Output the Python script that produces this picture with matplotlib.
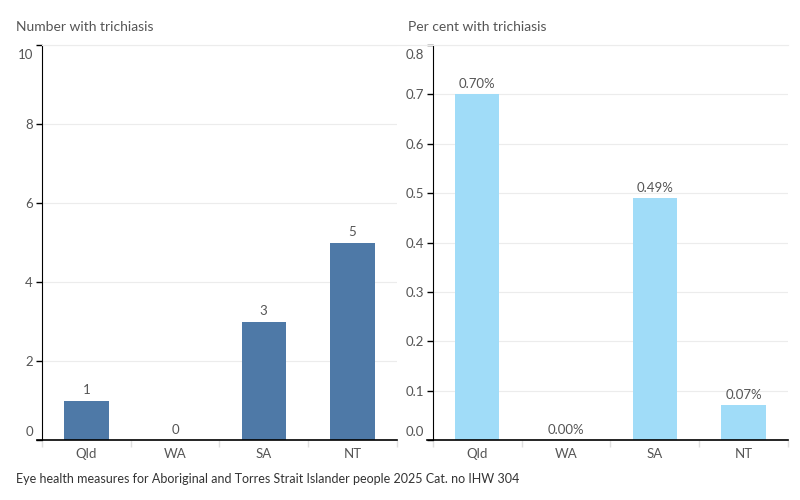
import matplotlib
matplotlib.use("Agg")
import matplotlib.pyplot as plt
from matplotlib.lines import Line2D
import matplotlib.transforms as mtransforms
import numpy as np

plt.rcParams['font.family'] = ['Lato', 'DejaVu Sans']

categories = ["Qld", "WA", "SA", "NT"]
number_values = [1, 0, 3, 5]
number_labels = ["1", "0", "3", "5"]
percent_values = [0.70, 0.00, 0.49, 0.07]
percent_labels = ["0.70%", "0.00%", "0.49%", "0.07%"]
left_ticks = [0, 2, 4, 6, 8, 10]
right_ticks = [0.0, 0.1, 0.2, 0.3, 0.4, 0.5, 0.6, 0.7, 0.8]

TXT = "#555555"
GRID = "#ececec"

fig = plt.figure(figsize=(8, 5), dpi=100)
ax1 = fig.add_axes([0.0525, 0.12, 0.4435, 0.79])
ax2 = fig.add_axes([0.541, 0.12, 0.444, 0.79])

def style(ax, ticks, ymax, fmt):
    ax.set_xlim(-0.5, 3.5)
    ax.set_ylim(0, ymax)
    for s in ["top", "right"]:
        ax.spines[s].set_visible(False)
    ax.spines["left"].set_color("black")
    ax.spines["bottom"].set_visible(False)
    ax.set_yticks(ticks)
    ax.set_yticklabels([fmt(t) for t in ticks])
    ax.tick_params(axis="y", length=4, width=1, color="black", labelcolor=TXT,
                   labelsize=9.5, pad=2.5)
    ax.set_xticks(range(len(categories)))
    ax.set_xticklabels(categories)
    ax.tick_params(axis="x", length=0, labelcolor=TXT, labelsize=9.5, pad=6)
    ax.set_xticks([-0.5, 0.5, 1.5, 2.5, 3.5], minor=True)
    ax.tick_params(axis="x", which="minor", length=5, color="#e0e0e0", width=1)
    for t in ticks:
        ax.axhline(t, color=GRID, lw=0.8, zorder=0)
    ax.axhline(0, xmin=-0.015, xmax=1.0, color="black", lw=1.2, clip_on=False, zorder=3)
    labels = ax.get_yticklabels()
    labels[0].set_verticalalignment("bottom")
    labels[0].set_transform(labels[0].get_transform() +
                            mtransforms.ScaledTranslation(0, 2/100, fig.dpi_scale_trans))
    labels[-1].set_verticalalignment("top")
    labels[-1].set_transform(labels[-1].get_transform() +
                             mtransforms.ScaledTranslation(0, -4/100, fig.dpi_scale_trans))

style(ax1, left_ticks, 10, lambda t: f"{t:d}")
style(ax2, right_ticks, 0.8, lambda t: f"{t:.1f}")

x = np.arange(len(categories))
ax1.bar(x, number_values, width=0.5, color="#4e79a7", zorder=2)
ax2.bar(x, percent_values, width=0.5, color="#a0dcf8", zorder=2)

for xi, v, lab in zip(x, number_values, number_labels):
    ax1.annotate(lab, (xi, v), xytext=(0, 3), textcoords="offset points",
                 ha="center", va="bottom", color=TXT, fontsize=9.5)
for xi, v, lab in zip(x, percent_values, percent_labels):
    ax2.annotate(lab, (xi, v), xytext=(0, 3), textcoords="offset points",
                 ha="center", va="bottom", color=TXT, fontsize=9.5)

fig.add_artist(Line2D([0.0525, 0.985], [0.91, 0.91], color=GRID, lw=0.8))

fig.text(16/800, 1 - 27/500, "Number with trichiasis", color=TXT, fontsize=10,
         ha="left", va="center")
fig.text(408/800, 1 - 27/500, "Per cent with trichiasis", color=TXT, fontsize=10,
         ha="left", va="center")
fig.text(16/800, 1 - 479/500,
         "Eye health measures for Aboriginal and Torres Strait Islander people 2025 Cat. no IHW 304",
         color="#333333", fontsize=9, ha="left", va="center")

fig.savefig("out.png", dpi=100)
